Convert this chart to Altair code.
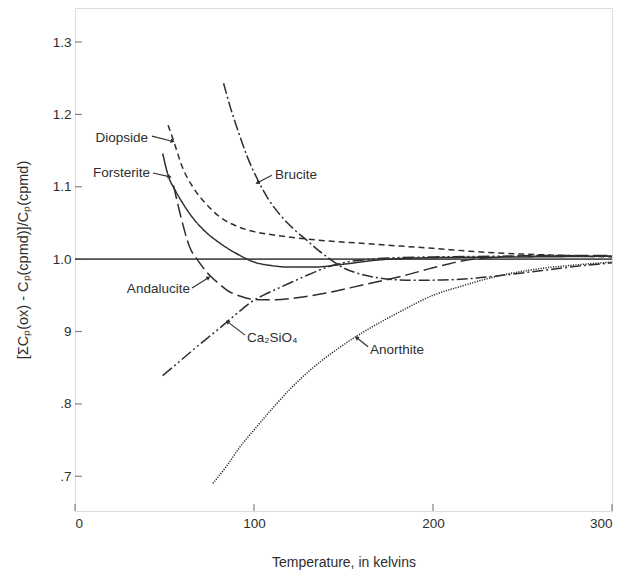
import math
import altair as alt
import pandas as pd

# ---------------- data ----------------
x_ticks = [0, 100, 200, 300]
y_ticks = [0.7, 0.8, 0.9, 1.0, 1.1, 1.2, 1.3]
y_tick_labels = [".7", ".8", "9", "1.0", "1.1", "1.2", "1.3"]

diopside_x = [52, 55, 60, 66, 73, 81, 90, 100, 112, 125, 142, 160, 182, 200, 220, 250, 275, 300]
diopside_y = [1.185, 1.164, 1.127, 1.099, 1.077, 1.058, 1.046, 1.038, 1.033, 1.029, 1.025, 1.022, 1.018, 1.015, 1.011, 1.007, 1.005, 1.003]

forsterite_x = [49, 52, 56, 60, 64, 72, 81, 90, 100, 110, 120, 133, 150, 170, 200, 250, 300]
forsterite_y = [1.146, 1.116, 1.095, 1.078, 1.063, 1.040, 1.022, 1.008, 0.996, 0.991, 0.989, 0.989, 0.993, 0.999, 1.002, 1.003, 1.004]

andalucite_x = [55, 59, 64, 69, 74, 80, 85, 92, 98, 105, 112, 125, 144, 160, 182, 200, 215, 237, 260, 300]
andalucite_y = [1.102, 1.060, 1.017, 0.997, 0.981, 0.967, 0.957, 0.949, 0.945, 0.944, 0.944, 0.947, 0.955, 0.964, 0.976, 0.988, 0.997, 1.003, 1.005, 1.005]

brucite_x = [83, 87, 91, 96, 102, 108, 115, 122, 130, 136, 142.5, 150, 160, 170, 185, 200, 220, 240, 260, 280, 300]
brucite_y = [1.243, 1.208, 1.178, 1.143, 1.110, 1.083, 1.060, 1.042, 1.025, 1.012, 1.000, 0.988, 0.979, 0.974, 0.971, 0.971, 0.973, 0.978, 0.984, 0.990, 0.995]

ca2sio4_x = [49, 60, 70, 80, 90, 98, 105, 112, 120, 130, 141, 152, 165, 180, 200, 250, 300]
ca2sio4_y = [0.839, 0.862, 0.883, 0.903, 0.924, 0.940, 0.950, 0.958, 0.967, 0.978, 0.989, 0.996, 1.000, 1.002, 1.003, 1.004, 1.004]

anorthite_x = [77, 85, 92, 100, 110, 120, 133, 145, 157, 170, 182, 200, 215, 237, 260, 280, 300]
anorthite_y = [0.690, 0.715, 0.740, 0.764, 0.793, 0.820, 0.850, 0.873, 0.893, 0.912, 0.928, 0.950, 0.962, 0.977, 0.987, 0.992, 0.996]

series_names = ["Diopside", "Forsterite", "Andalucite", "Brucite", "Ca2SiO4", "Anorthite"]

# annotation labels: text, text x, text y, alignment, arrow start, arrow end
label_text = ["Diopside", "Forsterite", "Brucite", "Andalucite", "Ca\u2082SiO\u2084", "Anorthite"]
label_x = [40.8, 41.9, 111.7, 64.2, 96.1, 164.8]
label_y = [1.168, 1.119, 1.116, 0.959, 0.891, 0.875]
label_align = ["right", "right", "left", "right", "left", "left"]
arrow_x1 = [43.0, 43.6, 110.0, 65.4, 95.0, 163.7]
arrow_y1 = [1.170, 1.119, 1.116, 0.960, 0.895, 0.879]
arrow_x2 = [54.2, 52.5, 102.2, 74.3, 85.5, 157.6]
arrow_y2 = [1.163, 1.114, 1.106, 0.974, 0.913, 0.891]

# ---------------- layout / style ----------------
W, H = 537, 503
X_DOM = [0, 300]
Y_DOM = [0.652, 1.347]
FONT = "Liberation Sans"
INK = "#2e2e2e"
FRAME = "#505050"
FS = 13.5

dashes = {
    "Diopside": [6, 4],
    "Forsterite": [1, 0],
    "Andalucite": [14, 5],
    "Brucite": [11, 3, 2, 3],
    "Ca2SiO4": [12, 3, 2, 3, 2, 3],
    "Anorthite": [1.2, 1.3],
}

series_data = {
    "Diopside": (diopside_x, diopside_y),
    "Forsterite": (forsterite_x, forsterite_y),
    "Andalucite": (andalucite_x, andalucite_y),
    "Brucite": (brucite_x, brucite_y),
    "Ca2SiO4": (ca2sio4_x, ca2sio4_y),
    "Anorthite": (anorthite_x, anorthite_y),
}

rows = []
for name in series_names:
    xs, ys = series_data[name]
    for i, (a, b) in enumerate(zip(xs, ys)):
        rows.append({"series": name, "x": a, "y": b, "order": i})
df = pd.DataFrame(rows)

xscale = alt.Scale(domain=X_DOM, nice=False, zero=False)
yscale = alt.Scale(domain=Y_DOM, nice=False, zero=False)

label_map = ", ".join(f"'{v:.1f}': '{t}'" for v, t in zip(y_ticks, y_tick_labels))
label_expr = "{" + label_map + "}[format(datum.value, '.1f')]"

x_axis = alt.Axis(values=x_ticks, title="Temperature, in kelvins", ticks=False, domain=False,
                  grid=False, labelPadding=5, titlePadding=26, labelFontSize=FS,
                  titleFontSize=14, titleFontWeight="normal", labelColor=INK, titleColor=INK,
                  labelFont=FONT, titleFont=FONT, format="d")
y_axis = alt.Axis(values=y_ticks, labelExpr=label_expr,
                  title="[\u03a3C\u209a(ox) - C\u209a(cpmd)]/C\u209a(cpmd)",
                  ticks=False, domain=False, grid=False, labelPadding=4, labelFontSize=FS,
                  titleFontSize=14.5, titleFontWeight="normal", labelColor=INK, titleColor=INK,
                  labelFont=FONT, titleFont=FONT, titleX=-52,
                  titleAlign="center", titleBaseline="middle", titleAngle=-90)

lines = alt.Chart(df).mark_line(color=INK, strokeWidth=1.5, interpolate="monotone").encode(
    x=alt.X("x:Q", scale=xscale, axis=x_axis),
    y=alt.Y("y:Q", scale=yscale, axis=y_axis),
    strokeDash=alt.StrokeDash("series:N",
                              scale=alt.Scale(domain=series_names,
                                              range=[dashes[n] for n in series_names]),
                              legend=None),
    detail="series:N",
    order="order:Q",
)

one_line = alt.Chart(pd.DataFrame({"v": [1.0]})).mark_rule(color=FRAME, strokeWidth=1.8).encode(
    y=alt.Y("v:Q", scale=yscale)
)

yt = alt.Chart(pd.DataFrame({"v": y_ticks})).mark_tick(
    orient="horizontal", size=7, thickness=1.2, color=FRAME
).encode(y=alt.Y("v:Q", scale=yscale), x=alt.value(3.5))

xt = alt.Chart(pd.DataFrame({"v": x_ticks})).mark_tick(
    orient="vertical", size=7, thickness=1.2, color=FRAME
).encode(x=alt.X("v:Q", scale=xscale), y=alt.value(H - 3.5))

ann = pd.DataFrame({
    "text": label_text, "tx": label_x, "ty": label_y, "align": label_align,
    "x1": arrow_x1, "y1": arrow_y1, "x2": arrow_x2, "y2": arrow_y2,
})
# arrowhead heading in screen space (clockwise from up)
sx = W / (X_DOM[1] - X_DOM[0])
sy = H / (Y_DOM[1] - Y_DOM[0])
angles = []
for a, b, c, d in zip(arrow_x1, arrow_y1, arrow_x2, arrow_y2):
    dx = (c - a) * sx
    dy = -(d - b) * sy
    angles.append((math.degrees(math.atan2(dx, -dy)) + 360) % 360)
ann["angle"] = angles

texts_r = alt.Chart(ann[ann["align"] == "right"]).mark_text(
    align="right", baseline="middle", font=FONT, fontSize=FS, color=INK
).encode(x=alt.X("tx:Q", scale=xscale), y=alt.Y("ty:Q", scale=yscale), text="text:N")
texts_l = alt.Chart(ann[ann["align"] == "left"]).mark_text(
    align="left", baseline="middle", font=FONT, fontSize=FS, color=INK
).encode(x=alt.X("tx:Q", scale=xscale), y=alt.Y("ty:Q", scale=yscale), text="text:N")

arrows = alt.Chart(ann).mark_rule(color=INK, strokeWidth=1.1).encode(
    x=alt.X("x1:Q", scale=xscale), y=alt.Y("y1:Q", scale=yscale),
    x2="x2:Q", y2="y2:Q",
)
heads = alt.Chart(ann).mark_point(shape="triangle", filled=True, size=22, color=INK, opacity=1).encode(
    x=alt.X("x2:Q", scale=xscale), y=alt.Y("y2:Q", scale=yscale),
    angle=alt.Angle("angle:Q", scale=None),
)

chart = alt.layer(one_line, lines, yt, xt, arrows, heads, texts_r, texts_l).properties(
    width=W, height=H,
    autosize=alt.AutoSizeParams(type="none"),
    padding={"left": 67, "top": 0, "right": 12, "bottom": 60},
).configure_view(stroke=FRAME, strokeWidth=1.5).configure(background="white")

chart.save("out.html", embed_options={"renderer": "svg", "actions": False})
